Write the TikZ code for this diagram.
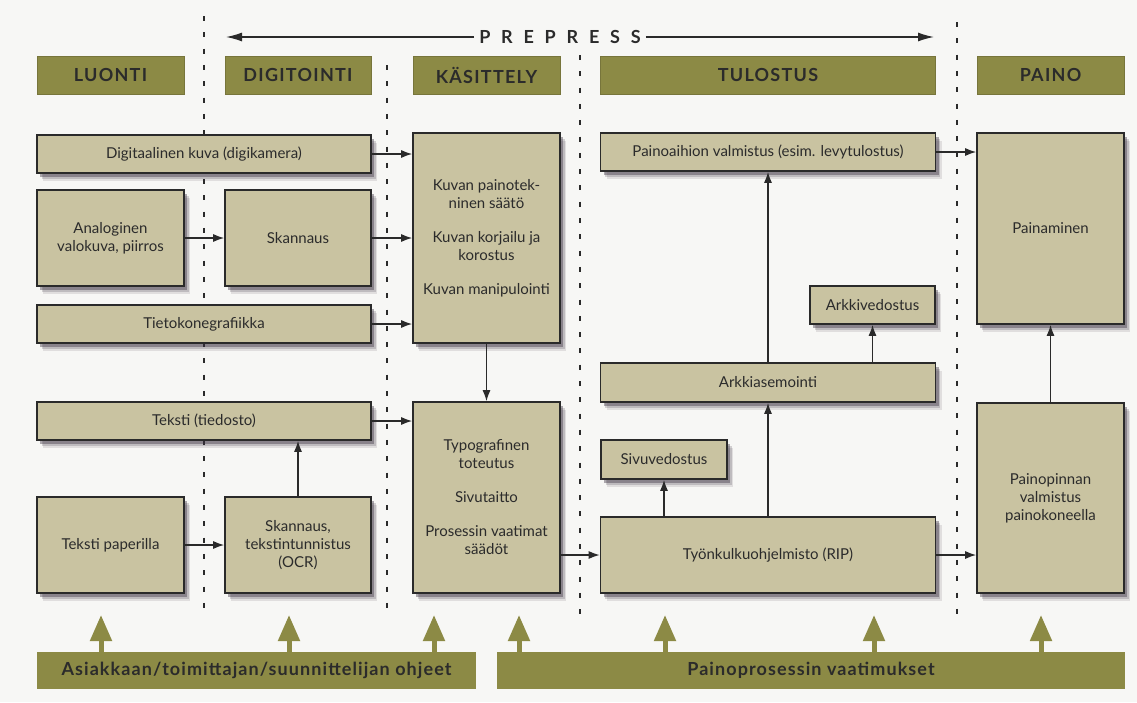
\documentclass[tikz,border=0pt]{standalone}
\usepackage{fontspec}
\setmainfont{Lato}
\usetikzlibrary{arrows.meta,shadows}
\definecolor{boxc}{HTML}{C9C3A1}
\definecolor{hdrc}{HTML}{8C8A45}
\definecolor{linec}{HTML}{2A2A2A}
\definecolor{textc}{HTML}{2B2B2B}
\definecolor{shadc}{HTML}{3A3040}
\definecolor{bgc}{HTML}{F7F7F5}
\begin{document}
\begin{tikzpicture}[x=1pt,y=-1pt,
  box/.style={draw=linec, line width=1.6pt, fill=boxc, text=textc, align=center,
    inner sep=2pt, font=\fontsize{15}{18}\selectfont,
    drop shadow={shadow xshift=6pt, shadow yshift=-8pt, opacity=.12, fill=shadc},
    drop shadow={shadow xshift=4.5pt, shadow yshift=-6pt, opacity=.2, fill=shadc},
    drop shadow={shadow xshift=3pt, shadow yshift=-3.5pt, opacity=.4, fill=shadc}},
  hdr/.style={fill=hdrc, draw=hdrc!85!black, line width=.6pt, text=textc,
    font=\fontsize{18}{20}\selectfont\bfseries\addfontfeature{LetterSpace=7}, minimum height=38pt, inner sep=0pt},
  bar/.style={fill=hdrc, text=textc, font=\fontsize{18}{20}\selectfont\bfseries\addfontfeature{LetterSpace=6},
    minimum height=37pt, inner sep=0pt},
  arr/.style={draw=linec, line width=1.4pt, -{Latex[length=11pt,width=8pt]}},
  parr/.style={draw=linec, line width=1.4pt, -{Latex[length=16pt,width=9pt]}},
  oarr/.style={draw=hdrc, line width=5pt, -{Triangle[length=26pt,width=21pt]}},
  dots/.style={draw=linec, line width=2.4pt, dash pattern=on 5pt off 11.3pt}
]
\useasboundingbox (0,0) rectangle (1137,702);
\fill[bgc] (0,0) rectangle (1137,702);

% dotted separators
\draw[dots] (204,16) -- (204,614);
\draw[dots] (387,65) -- (387,614);
\draw[dots] (580,55) -- (580,614);
\draw[dots] (957,22) -- (957,614);

% PREPRESS
\node[font=\fontsize{18}{20}\selectfont\bfseries\addfontfeature{LetterSpace=60}, text=textc, fill=bgc, inner sep=5pt] (pp) at (560,37) {PREPRESS};
\coordinate (pl) at (226,37);
\coordinate (pr) at (934,37);
\draw[parr] (pp.west) -- (pl);
\draw[parr] (pp.east) -- (pr);

% headers
\node[hdr, minimum width=147pt] (h1) at (110.5,75) {LUONTI};
\node[hdr, minimum width=146pt] (h2) at (298,75) {DIGITOINTI};
\node[hdr, minimum width=147pt] (h3) at (486.5,75) {KÄSITTELY};
\node[hdr, minimum width=335pt] (h4) at (768,75) {TULOSTUS};
\node[hdr, minimum width=147pt] (h5) at (1050.5,75) {PAINO};

% boxes
\node[box, minimum width=334pt, minimum height=38pt] (digi) at (204,154) {Digitaalinen kuva (digikamera)};
\node[box, minimum width=147pt, minimum height=96pt] (anal) at (110.5,238) {Analoginen\\valokuva, piirros};
\node[box, minimum width=146pt, minimum height=96pt] (skan) at (298,238) {Skannaus};
\node[box, minimum width=334pt, minimum height=38pt] (tieto) at (204,324) {Tietokonegrafiikka};
\node[box, minimum width=147pt, minimum height=210pt] (kuvan) at (486.5,238) {Kuvan painotek-\\ninen säätö\\[16pt]Kuvan korjailu ja\\korostus\\[16pt]Kuvan manipulointi};
\node[box, minimum width=334pt, minimum height=38pt] (teksti) at (204,421) {Teksti (tiedosto)};
\node[box, minimum width=147pt, minimum height=96pt] (paper) at (110.5,545) {Teksti paperilla};
\node[box, minimum width=146pt, minimum height=96pt] (ocr) at (298,545) {Skannaus,\\tekstintunnistus\\(OCR)};
\node[box, minimum width=147pt, minimum height=191pt] (typo) at (486.5,497.5) {Typografinen\\toteutus\\[16pt]Sivutaitto\\[16pt]Prosessin vaatimat\\säädöt};
\node[box, minimum width=335pt, minimum height=38pt] (pa) at (768,152) {Painoaihion valmistus (esim. levytulostus)};
\node[box, minimum width=125pt, minimum height=38pt] (arkkived) at (872.5,305) {Arkkivedostus};
\node[box, minimum width=335pt, minimum height=39pt] (arkkias) at (768,382.5) {Arkkiasemointi};
\node[box, minimum width=126pt, minimum height=39pt] (sivu) at (664,459.5) {Sivuvedostus};
\node[box, minimum width=335pt, minimum height=76pt] (rip) at (768,555) {Työnkulkuohjelmisto (RIP)};
\node[box, minimum width=147pt, minimum height=191pt] (painam) at (1050.5,228.5) {Painaminen};
\node[box, minimum width=147pt, minimum height=190pt] (pinnan) at (1050.5,498) {Painopinnan\\valmistus\\painokoneella};

% connectors
\draw[arr] (digi.east) -- (digi.east -| kuvan.west);
\draw[arr] (anal) -- (skan);
\draw[arr] (skan.east) -- (skan.east -| kuvan.west);
\draw[arr] (tieto.east) -- (tieto.east -| kuvan.west);
\draw[arr] (kuvan.south) -- (kuvan.south |- typo.north);
\draw[arr] (teksti.east) -- (teksti.east -| typo.west);
\draw[arr] (paper) -- (ocr);
\draw[arr] (ocr.north) -- (ocr.north |- teksti.south);
\draw[arr] (typo.east |- rip.west) -- (rip.west);
\draw[arr] (rip.north -| sivu.south) -- (sivu.south);
\draw[arr] (rip.north) -- (rip.north |- arkkias.south);
\draw[arr] (arkkias.north) -- (arkkias.north |- pa.south);
\draw[arr] (arkkias.north -| arkkived.south) -- (arkkived.south);
\draw[arr] (pa.east) -- (pa.east -| painam.west);
\draw[arr] (rip.east) -- (rip.east -| pinnan.west);
\draw[arr] (pinnan.north) -- (pinnan.north |- painam.south);

% bottom bars
\node[bar, minimum width=439pt] (bar1) at (256.5,670.5) {Asiakkaan/toimittajan/suunnittelijan ohjeet};
\node[bar, minimum width=628pt] (bar2) at (811,670.5) {Painoprosessin vaatimukset};

\coordinate (t1) at (101,615);
\coordinate (t2) at (289,615);
\coordinate (t3) at (434,615);
\coordinate (t4) at (519,615);
\coordinate (t5) at (665,615);
\coordinate (t6) at (874,615);
\coordinate (t7) at (1041,615);
\foreach \t in {t1,t2,t3} \draw[oarr] (bar1.north -| \t) -- (\t);
\foreach \t in {t4,t5,t6,t7} \draw[oarr] (bar2.north -| \t) -- (\t);
\end{tikzpicture}
\end{document}
